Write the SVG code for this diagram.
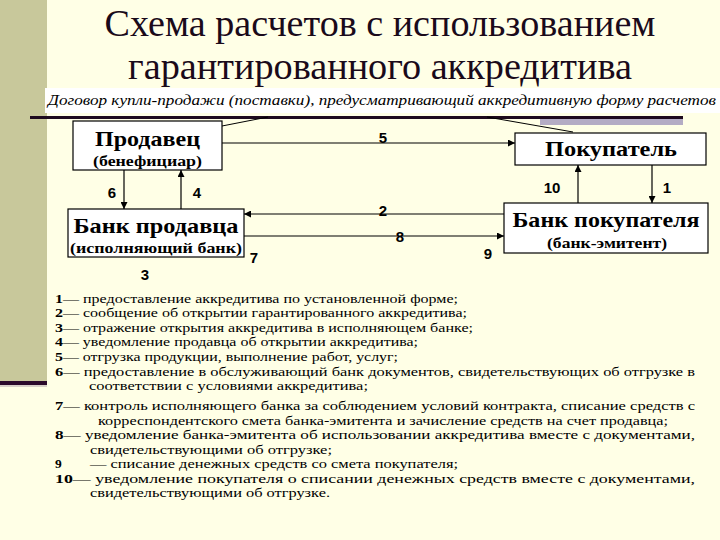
<svg xmlns="http://www.w3.org/2000/svg" width="720" height="540" viewBox="0 0 720 540">
<defs>
<marker id="ah" viewBox="0 0 10 10" refX="10" refY="5" markerWidth="7" markerHeight="7" markerUnits="userSpaceOnUse" orient="auto">
<path d="M0,0 L10,5 L0,10 z" fill="#000"/>
</marker>
<style>
.title{font-family:'Liberation Serif','Tinos','Times New Roman','Noto Serif','DejaVu Serif','FreeSerif',serif;font-size:38px;fill:#1a0a1a;text-anchor:middle}
.sub{font-family:'Liberation Serif','Tinos','Noto Serif','DejaVu Serif',serif;font-style:italic;font-size:15px;fill:#000}
.box{fill:#fff;stroke:#000;stroke-width:1.2}
.bt{font-family:'Liberation Serif','Tinos','Noto Serif','DejaVu Serif',serif;font-weight:bold;fill:#000;text-anchor:middle}
.num{font-family:'Liberation Sans',Arial,sans-serif;font-weight:bold;font-size:15px;fill:#000;text-anchor:middle}
.conn line{stroke:#000;stroke-width:1.2;marker-end:url(#ah)}
.plain{stroke:#000;stroke-width:1}
.leg{font-family:'Liberation Serif','Tinos','Noto Serif','DejaVu Serif',serif;font-size:13.5px;fill:#000}
.leg tspan.n{font-weight:bold}
</style>
</defs>
<rect width="720" height="540" fill="#FFFFE6"/>
<rect x="0" y="0" width="47" height="381" fill="#C8C89B"/>
<rect x="0" y="381" width="47" height="4" fill="#2B0A2B"/>
<rect x="0" y="385" width="47" height="2" fill="#D8D0C8"/>

<text class="title" x="380" y="36" textLength="551" lengthAdjust="spacingAndGlyphs">Схема расчетов с использованием</text>
<text class="title" x="380" y="79" textLength="504" lengthAdjust="spacingAndGlyphs">гарантированного аккредитива</text>

<rect x="45" y="88" width="675" height="25" fill="#fff"/>
<text class="sub" x="48" y="105" textLength="668" lengthAdjust="spacingAndGlyphs">Договор купли-продажи (поставки), предусматривающий аккредитивную форму расчетов</text>

<rect x="540" y="117" width="143" height="8" fill="#B4ACC4"/>
<line x1="30" y1="117.5" x2="683" y2="117.5" stroke="#1E0A1E" stroke-width="3"/>
<line class="plain" x1="222" y1="126" x2="268" y2="117"/>
<line class="plain" x1="573" y1="132" x2="487" y2="117"/>

<g id="seller">
<rect class="box" x="73" y="121" width="149" height="49"/>
<text class="bt" x="147.5" y="146" font-size="21" textLength="105" lengthAdjust="spacingAndGlyphs">Продавец</text>
<text class="bt" x="147.5" y="166" font-size="15" textLength="109" lengthAdjust="spacingAndGlyphs">(бенефициар)</text>
</g>
<g id="seller-bank">
<rect class="box" x="68" y="209" width="176" height="48"/>
<text class="bt" x="156" y="233" font-size="22" textLength="165" lengthAdjust="spacingAndGlyphs">Банк продавца</text>
<text class="bt" x="156" y="253" font-size="15" textLength="172" lengthAdjust="spacingAndGlyphs">(исполняющий банк)</text>
</g>
<g id="buyer">
<rect class="box" x="515" y="133" width="191" height="32"/>
<text class="bt" x="611" y="156" font-size="22" textLength="132" lengthAdjust="spacingAndGlyphs">Покупатель</text>
</g>
<g id="buyer-bank">
<rect class="box" x="504" y="203" width="204" height="50"/>
<text class="bt" x="606" y="227" font-size="22" textLength="187" lengthAdjust="spacingAndGlyphs">Банк покупателя</text>
<text class="bt" x="607" y="248" font-size="14" textLength="120" lengthAdjust="spacingAndGlyphs">(банк-эмитент)</text>
</g>

<g id="connectors" class="conn">
<line x1="222" y1="143" x2="515" y2="143"/>
<line x1="124" y1="170" x2="124" y2="209"/>
<line x1="181" y1="209" x2="181" y2="170"/>
<line x1="578" y1="203" x2="578" y2="165"/>
<line x1="652" y1="165" x2="652" y2="203"/>
<line x1="504" y1="214" x2="244" y2="214"/>
<line x1="244" y1="236" x2="504" y2="236"/>
</g>

<g id="labels">
<text class="num" x="383" y="143">5</text>
<text class="num" x="112" y="198">6</text>
<text class="num" x="197" y="198">4</text>
<text class="num" x="552" y="193">10</text>
<text class="num" x="667" y="193">1</text>
<text class="num" x="383" y="216">2</text>
<text class="num" x="400" y="242">8</text>
<text class="num" x="254" y="263">7</text>
<text class="num" x="488" y="259">9</text>
<text class="num" x="145" y="280">3</text>
</g>

<g id="legend" class="leg">
<text x="55" y="303" textLength="403" lengthAdjust="spacingAndGlyphs"><tspan class="n">1</tspan>— предоставление аккредитива по установленной форме;</text>
<text x="55" y="317" textLength="412" lengthAdjust="spacingAndGlyphs"><tspan class="n">2</tspan>— сообщение об открытии гарантированного аккредитива;</text>
<text x="55" y="332" textLength="418" lengthAdjust="spacingAndGlyphs"><tspan class="n">3</tspan>— отражение открытия аккредитива в исполняющем банке;</text>
<text x="55" y="346" textLength="363" lengthAdjust="spacingAndGlyphs"><tspan class="n">4</tspan>— уведомление продавца об открытии аккредитива;</text>
<text x="55" y="361" textLength="343" lengthAdjust="spacingAndGlyphs"><tspan class="n">5</tspan>— отгрузка продукции, выполнение работ, услуг;</text>
<text x="55" y="376" textLength="640" lengthAdjust="spacingAndGlyphs"><tspan class="n">6</tspan>—  предоставление в обслуживающий банк документов, свидетельствующих об отгрузке в</text>
<text x="89" y="390" textLength="279" lengthAdjust="spacingAndGlyphs">соответствии с условиями аккредитива;</text>
<text x="55" y="410" textLength="640" lengthAdjust="spacingAndGlyphs"><tspan class="n">7</tspan>— контроль исполняющего банка за соблюдением условий контракта, списание средств с</text>
<text x="98" y="425" textLength="570" lengthAdjust="spacingAndGlyphs">корреспондентского смета банка-эмитента и зачисление средств на счет продавца;</text>
<text x="55" y="439" textLength="640" lengthAdjust="spacingAndGlyphs"><tspan class="n">8</tspan>—  уведомление банка-эмитента об использовании аккредитива вместе с документами,</text>
<text x="90" y="454" textLength="242" lengthAdjust="spacingAndGlyphs">свидетельствующими об отгрузке;</text>
<text x="55" y="468"><tspan class="n">9</tspan></text>
<text x="90" y="468" textLength="368" lengthAdjust="spacingAndGlyphs">— списание денежных средств со смета покупателя;</text>
<text x="55" y="483" textLength="640" lengthAdjust="spacingAndGlyphs"><tspan class="n">10</tspan>—  уведомление покупателя о списании денежных средств вместе с документами,</text>
<text x="90" y="497" textLength="240" lengthAdjust="spacingAndGlyphs">свидетельствующими об отгрузке.</text>
</g>
</svg>
